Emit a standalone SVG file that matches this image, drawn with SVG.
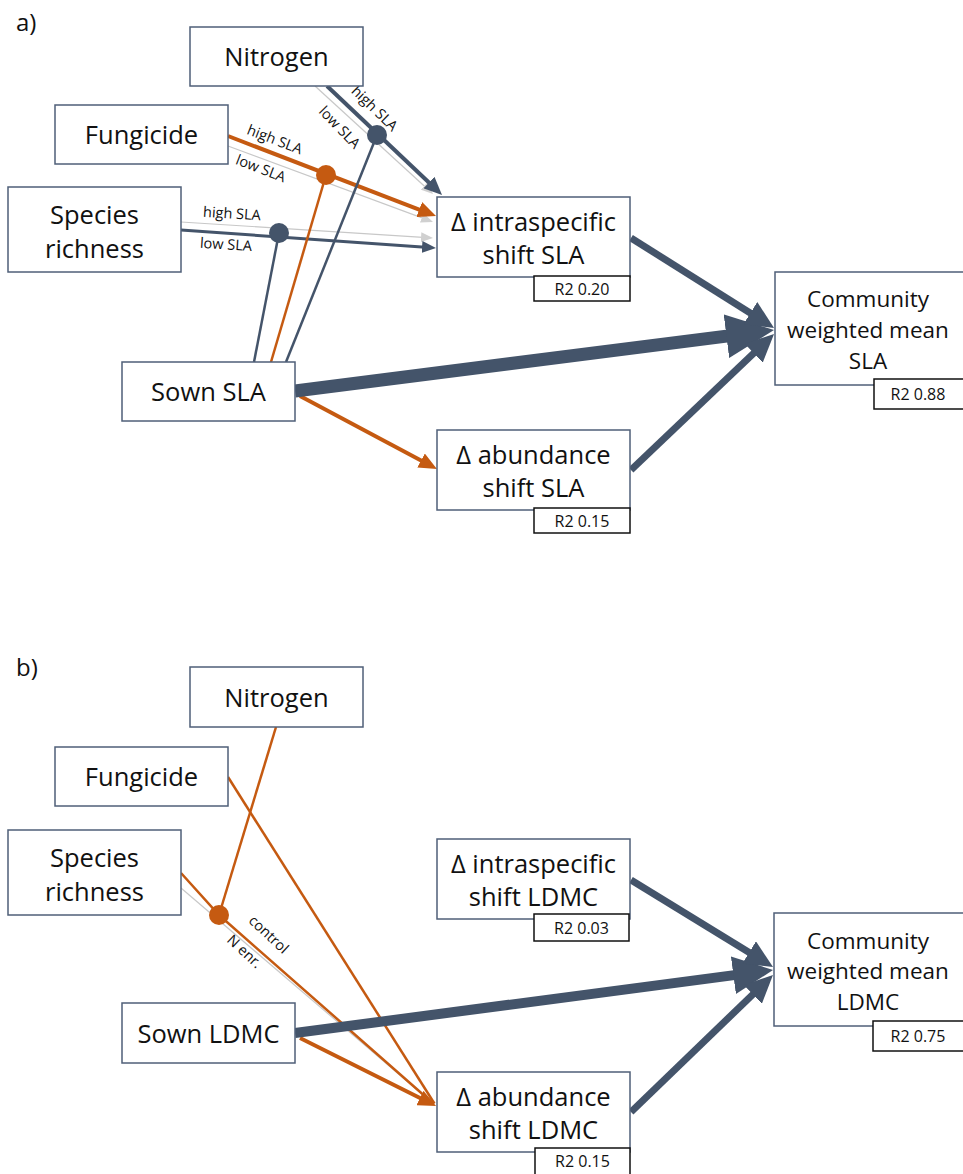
<svg xmlns="http://www.w3.org/2000/svg" width="963" height="1174" viewBox="0 0 963 1174">
<style>
text{font-family:"Open Sans","Noto Sans","Liberation Sans",sans-serif;fill:#111;}
.box{fill:#fff;stroke:#4f5f78;stroke-width:1.5;}
.r2{fill:#fff;stroke:#111;stroke-width:1.5;}
.t{font-size:25.5px;text-anchor:middle;dominant-baseline:central;}
.tc{font-size:22.5px;text-anchor:middle;dominant-baseline:central;}
.tr{font-size:16px;text-anchor:middle;dominant-baseline:central;}
.lbl{font-size:14.5px;text-anchor:middle;dominant-baseline:central;}
.pl{font-size:24px;}
.dk{stroke:#44546a;fill:none;}
.or{stroke:#c55a11;fill:none;}
.gr{stroke:#c8c8c8;fill:none;stroke-width:1.2;}
</style>
<defs>
<marker id="hd" markerUnits="userSpaceOnUse" markerWidth="18" markerHeight="16" viewBox="0 0 18 16" refX="9" refY="8" orient="auto"><path d="M0,0 L18,8 L0,16 z" fill="#44546a"/></marker>
<marker id="ho" markerUnits="userSpaceOnUse" markerWidth="18" markerHeight="16" viewBox="0 0 18 16" refX="9" refY="8" orient="auto"><path d="M0,0 L18,8 L0,16 z" fill="#c55a11"/></marker>
<marker id="hg" markerUnits="userSpaceOnUse" markerWidth="12" markerHeight="10" viewBox="0 0 12 10" refX="6" refY="5" orient="auto"><path d="M0,0 L12,5 L0,10 z" fill="#d0d0d0"/></marker>
<marker id="hdt" markerUnits="userSpaceOnUse" markerWidth="14" markerHeight="12" viewBox="0 0 14 12" refX="7" refY="6" orient="auto"><path d="M0,0 L14,6 L0,12 z" fill="#44546a"/></marker>
<marker id="hbig" markerUnits="userSpaceOnUse" markerWidth="48" markerHeight="44" viewBox="0 0 48 44" refX="24" refY="22" orient="auto"><path d="M0,0 L48,22 L0,44 z" fill="#44546a"/></marker>
<marker id="hbigb" markerUnits="userSpaceOnUse" markerWidth="40" markerHeight="38" viewBox="0 0 40 38" refX="20" refY="19" orient="auto"><path d="M0,0 L40,19 L0,38 z" fill="#44546a"/></marker>
<marker id="hmed" markerUnits="userSpaceOnUse" markerWidth="28" markerHeight="26" viewBox="0 0 28 26" refX="14" refY="13" orient="auto"><path d="M0,0 L28,13 L0,26 z" fill="#44546a"/></marker>
</defs>
<rect width="963" height="1174" fill="#fff"/>
<text class="pl" x="16" y="31">a)</text>
<text class="pl" x="16" y="676">b)</text>

<g id="connectors">
<!-- part a -->
<line class="gr" x1="315" y1="86" x2="428.6" y2="190" marker-end="url(#hg)"/>
<line class="gr" x1="228" y1="146" x2="427.4" y2="219.9" marker-end="url(#hg)"/>
<line class="gr" x1="181" y1="222" x2="427" y2="237.6" marker-end="url(#hg)"/>
<line class="dk" stroke-width="4" x1="327" y1="86" x2="435.5" y2="188.8" marker-end="url(#hd)"/>
<line class="or" stroke-width="4" x1="228" y1="136" x2="427.6" y2="212.8" marker-end="url(#ho)"/>
<line class="dk" stroke-width="3" x1="181" y1="230" x2="429" y2="247.5" marker-end="url(#hdt)"/>
<line class="dk" stroke-width="2.5" x1="254" y1="362" x2="279" y2="233"/>
<line class="or" stroke-width="2.5" x1="271" y1="362" x2="326" y2="175"/>
<line class="dk" stroke-width="2.5" x1="286" y1="362" x2="377" y2="135"/>
<line class="or" stroke-width="4" x1="300" y1="396" x2="429" y2="464.8" marker-end="url(#ho)"/>
<line class="dk" stroke-width="13" x1="295" y1="391" x2="750.2" y2="333.1" marker-end="url(#hbig)"/>
<line class="dk" stroke-width="7" x1="631" y1="238" x2="762.2" y2="320.5" marker-end="url(#hmed)"/>
<line class="dk" stroke-width="7" x1="631" y1="470" x2="763.9" y2="343.6" marker-end="url(#hmed)"/>
<circle cx="377" cy="135" r="10" fill="#44546a"/>
<circle cx="326" cy="175" r="10" fill="#c55a11"/>
<circle cx="279" cy="233" r="10" fill="#44546a"/>
<text class="lbl" transform="translate(375,108) rotate(44)">high SLA</text>
<text class="lbl" transform="translate(340,127) rotate(46)">low SLA</text>
<text class="lbl" transform="translate(275,139) rotate(21)">high SLA</text>
<text class="lbl" transform="translate(261,168) rotate(21)">low SLA</text>
<text class="lbl" transform="translate(232,213) rotate(3.6)">high SLA</text>
<text class="lbl" transform="translate(226,244) rotate(3.8)">low SLA</text>
<!-- part b -->
<line class="gr" x1="181" y1="888" x2="434" y2="1104.3"/>
<line class="or" stroke-width="2.5" x1="276" y1="727" x2="219" y2="915"/>
<line class="or" stroke-width="2.5" x1="228" y1="777" x2="434.4" y2="1103.5"/>
<polyline class="or" stroke-width="2.5" points="181,873 219,915 433.8,1104"/>
<line class="or" stroke-width="4" x1="300" y1="1038" x2="428" y2="1102" marker-end="url(#ho)"/>
<line class="dk" stroke-width="10" x1="295" y1="1033" x2="753.2" y2="972.6" marker-end="url(#hbigb)"/>
<line class="dk" stroke-width="7" x1="631" y1="880" x2="761.1" y2="959.7" marker-end="url(#hmed)"/>
<line class="dk" stroke-width="7" x1="631" y1="1112" x2="762.9" y2="984.7" marker-end="url(#hmed)"/>
<circle cx="219" cy="915" r="10" fill="#c55a11"/>
<text class="lbl" transform="translate(269,934) rotate(43)">control</text>
<text class="lbl" transform="translate(245,951) rotate(43)">N enr.</text>
</g>

<!-- part a nodes -->
<g id="a-nitrogen"><rect class="box" x="190" y="27" width="173" height="59"/><text class="t" x="276.5" y="56">Nitrogen</text></g>
<g id="a-fungicide"><rect class="box" x="55" y="105" width="173" height="59"/><text class="t" x="141.5" y="134">Fungicide</text></g>
<g id="a-richness"><rect class="box" x="8" y="187" width="173" height="85"/><text class="t" x="94.5" y="214">Species</text><text class="t" x="94.5" y="248">richness</text></g>
<g id="a-sown"><rect class="box" x="122" y="362" width="173" height="59"/><text class="t" x="208.5" y="391">Sown SLA</text></g>
<g id="a-intra"><rect class="box" x="437" y="197" width="193" height="80"/><text class="t" x="533.5" y="221">Δ intraspecific</text><text class="t" x="533.5" y="254">shift SLA</text>
<rect class="r2" x="534" y="276" width="96" height="25"/><text class="tr" x="582" y="288.5">R2 0.20</text></g>
<g id="a-abund"><rect class="box" x="437" y="430" width="193" height="80"/><text class="t" x="533.5" y="454">Δ abundance</text><text class="t" x="533.5" y="487">shift SLA</text>
<rect class="r2" x="534" y="508" width="96" height="25"/><text class="tr" x="582" y="520.5">R2 0.15</text></g>
<g id="a-cwm"><rect class="box" x="775" y="272" width="190" height="113"/><text class="tc" x="868" y="298">Community</text><text class="tc" x="868" y="329">weighted mean</text><text class="tc" x="868" y="360">SLA</text>
<rect class="r2" x="874" y="379" width="92" height="30"/><text class="tr" x="918" y="394">R2 0.88</text></g>

<!-- part b nodes -->
<g id="b-nitrogen"><rect class="box" x="190" y="667" width="173" height="60"/><text class="t" x="276.5" y="697">Nitrogen</text></g>
<g id="b-fungicide"><rect class="box" x="55" y="747" width="173" height="59"/><text class="t" x="141.5" y="776">Fungicide</text></g>
<g id="b-richness"><rect class="box" x="8" y="830" width="173" height="85"/><text class="t" x="94.5" y="857">Species</text><text class="t" x="94.5" y="891">richness</text></g>
<g id="b-sown"><rect class="box" x="122" y="1003" width="173" height="60"/><text class="t" x="208.5" y="1033">Sown LDMC</text></g>
<g id="b-intra"><rect class="box" x="437" y="839" width="193" height="80"/><text class="t" x="533.5" y="863">Δ intraspecific</text><text class="t" x="533.5" y="896">shift LDMC</text>
<rect class="r2" x="534" y="914" width="95" height="27"/><text class="tr" x="581.5" y="927.5">R2 0.03</text></g>
<g id="b-abund"><rect class="box" x="437" y="1072" width="193" height="80"/><text class="t" x="533.5" y="1096">Δ abundance</text><text class="t" x="533.5" y="1129">shift LDMC</text>
<rect class="r2" x="535" y="1148" width="95" height="28"/><text class="tr" x="582.5" y="1161">R2 0.15</text></g>
<g id="b-cwm"><rect class="box" x="774" y="913" width="191" height="113"/><text class="tc" x="868" y="940">Community</text><text class="tc" x="868" y="970">weighted mean</text><text class="tc" x="868" y="1001">LDMC</text>
<rect class="r2" x="873" y="1021" width="93" height="30"/><text class="tr" x="918" y="1036">R2 0.75</text></g>
</svg>
